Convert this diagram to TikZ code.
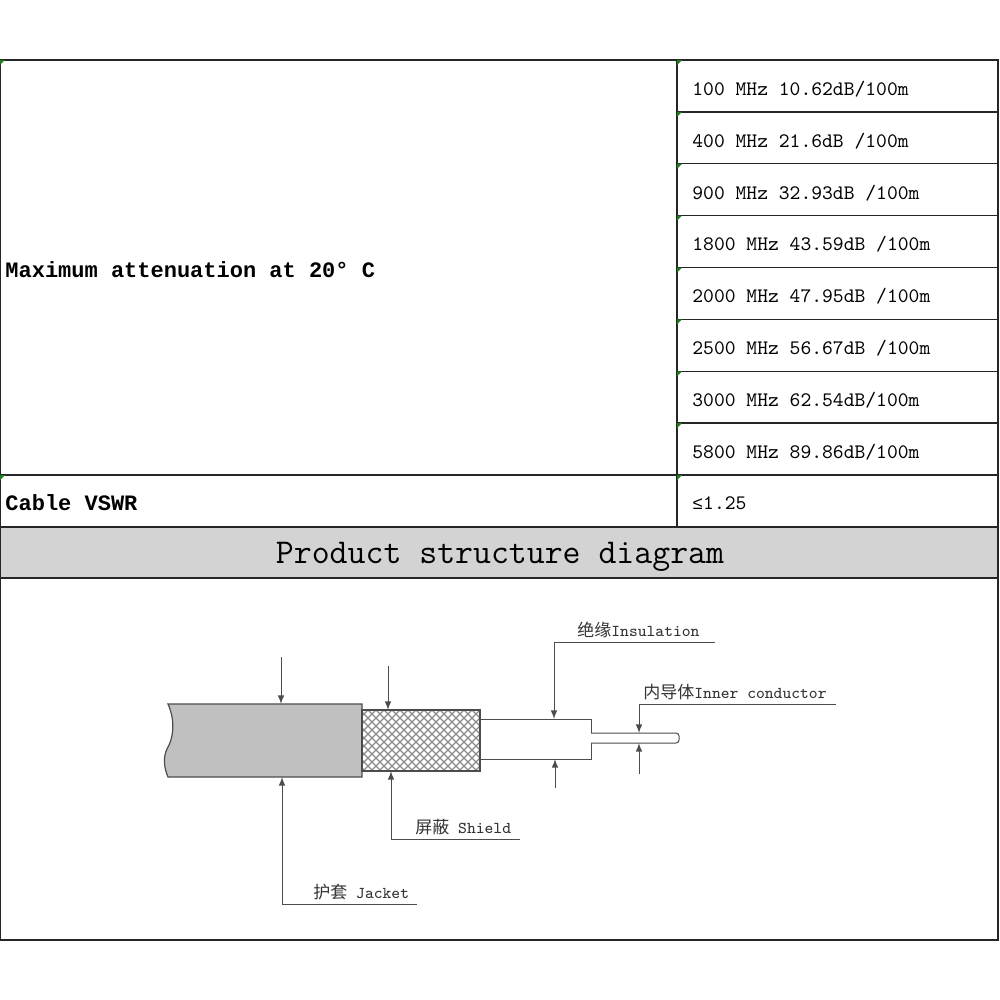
\documentclass[tikz,border=0pt]{standalone}
\usepackage{fontspec}
\newfontfamily\boldmono{Liberation Mono}
\newfontfamily\cjk{Noto Sans CJK SC}
\usetikzlibrary{positioning}

\definecolor{bandgray}{HTML}{D3D3D3}
\definecolor{jacketgray}{HTML}{C0C0C0}
\definecolor{flaggreen}{HTML}{1E7B1E}

\tikzset{
  cell/.style={draw=black!85, line width=0.7pt},
  rowtext/.style={anchor=west, inner sep=0pt, font=\ttfamily\fontsize{10.3}{11}\selectfont},
  headtext/.style={anchor=west, inner sep=0pt, font=\boldmono\bfseries\fontsize{11}{12}\selectfont},
  tag/.style={anchor=south west, inner sep=0pt, text=black!80, font=\ttfamily\fontsize{8.3}{9}\selectfont},
  lead/.style={draw=black!70, line width=0.5pt},
  pointer/.style={lead, -latex},
  braid/.style={draw=black!45, line width=0.55pt},
  errflag/.style={fill=flaggreen}
}
\newcommand{\zh}[1]{{\cjk\fontsize{8.5}{9}\selectfont #1}}

\begin{document}
\begin{tikzpicture}[x=0.5pt, y=-0.5pt]
\useasboundingbox (0,0) rectangle (1000,1000);

% table
\draw[cell] (0,60) rectangle (998,940);
\draw[cell] (677,60) -- (677,527);
\draw[cell] (0,475) -- (998,475);
\draw[cell, fill=bandgray] (0,527) rectangle (998,578);

\foreach \txt [count=\i] in {100 MHz 10.62dB/100m, 400 MHz 21.6dB /100m,
    900 MHz 32.93dB /100m, 1800 MHz 43.59dB /100m, 2000 MHz 47.95dB /100m,
    2500 MHz 56.67dB /100m, 3000 MHz 62.54dB/100m, 5800 MHz 89.86dB/100m} {
  \pgfmathsetmacro{\ytop}{60+(\i-1)*51.875}
  \draw[cell] (677,\ytop+51.875) -- (998,\ytop+51.875);
  \node[rowtext] (f\i) at (692,\ytop+29) {\txt};
  \fill[errflag] (677,\ytop) -- ++(5,0) -- ++(-5,5) -- cycle;
}
\fill[errflag] (0,60) -- ++(5,0) -- ++(-5,5) -- cycle;
\fill[errflag] (0,475) -- ++(5,0) -- ++(-5,5) -- cycle;
\fill[errflag] (677,475) -- ++(5,0) -- ++(-5,5) -- cycle;

\node[headtext] (atten) at (5,270) {Maximum attenuation at 20° C};
\node[headtext] (vswr) at (5,503) {Cable VSWR};
\node[rowtext] (vswrval) at (692,503) {{\boldmono\fontsize{9}{10}\selectfont ≤}1.25};
\node[inner sep=0pt, font=\ttfamily\fontsize{17.4}{18}\selectfont] (title) at (500,557) {Product structure diagram};

% cable
\draw[black!70, line width=0.5pt, fill=white] (480,719) rectangle (591,759);
\draw[black!70, line width=0.5pt, fill=white, rounded corners=1.5pt] (591,733) -- (679,733) -- (679,743) -- (591,743);
\draw[black!70, line width=0.6pt, fill=jacketgray] (168,704) -- (362,704) -- (362,777) -- (168,777)
  .. controls (164,768) and (163,757) .. (167,749) .. controls (173,739) and (176,722) .. (168,704) -- cycle;
\fill[white] (362,710) rectangle (480,771);
\begin{scope}
  \clip (362,710) rectangle (480,771);
  \foreach \xo in {296,304,...,552} {
    \draw[braid] (\xo,710) -- ++(61,61);
    \draw[braid] (\xo,710) -- ++(-61,61);
  }
\end{scope}
\draw[black!70, line width=0.6pt] (362,710) rectangle (480,771);

% leaders
\coordinate (jkt top) at (281,704);
\coordinate (jkt low) at (282,777);
\coordinate (shd top) at (388,710);
\coordinate (shd low) at (391,771);
\coordinate (ins top) at (554,719);
\coordinate (ins low) at (555,759);
\coordinate (cnd top) at (639,733);
\coordinate (cnd low) at (639,743);

\coordinate (jkt in) at (281,657);
\coordinate (shd in) at (388,666);
\coordinate (ins in) at (555,788);
\coordinate (cnd in) at (639,774);
\coordinate (jkt end) at (417,904);
\coordinate (shd end) at (520,839);
\coordinate (ins end) at (715,642);
\coordinate (cnd end) at (836,704);

\draw[pointer] (jkt in) -- (jkt top);
\draw[pointer] (shd in) -- (shd top);
\draw[pointer] (ins in) -- (ins low);
\draw[pointer] (cnd in) -- (cnd low);
\draw[pointer] (jkt end) -- (jkt end -| jkt low) -- (jkt low);
\draw[pointer] (shd end) -- (shd end -| shd low) -- (shd low);
\draw[pointer] (ins end) -- (ins end -| ins top) -- (ins top);
\draw[pointer] (cnd end) -- (cnd end -| cnd top) -- (cnd top);

\node[tag] (jkt tag) at (313,900) {\zh{护套} Jacket};
\node[tag] (shd tag) at (415,835) {\zh{屏蔽} Shield};
\node[tag] (ins tag) at (577,638) {\zh{绝缘}Insulation};
\node[tag] (cnd tag) at (643,700) {\zh{内导体}Inner conductor};
\end{tikzpicture}
\end{document}
